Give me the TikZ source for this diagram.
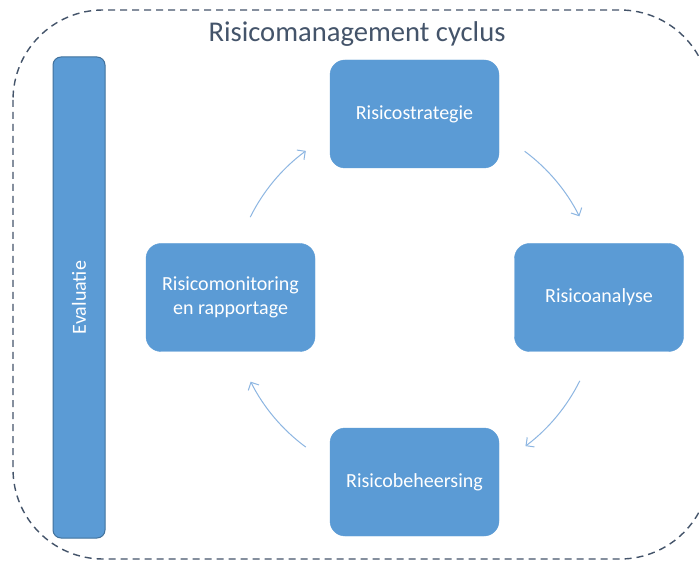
\documentclass[tikz,border=0pt]{standalone}
\usepackage{fontspec}
\setmainfont{Carlito}
\usetikzlibrary{arrows.meta}
\definecolor{boxblue}{HTML}{5B9BD5}
\definecolor{boxedge}{HTML}{41719C}
\definecolor{slate}{HTML}{44546A}
\definecolor{arrowblue}{HTML}{8DB6E2}
\begin{document}
\begin{tikzpicture}[x=1pt,y=1pt,
  stepbox/.style={rectangle, rounded corners=15pt, minimum width=169pt, minimum height=108pt,
    fill=boxblue, draw=boxblue, text=white, align=center, inner sep=2pt,
    font=\fontsize{20}{24}\selectfont},
  evalbar/.style={rectangle, rounded corners=8pt, minimum width=52pt, minimum height=481pt,
    fill=boxblue, draw=boxedge, line width=1pt, text=white, inner sep=0pt},
  cyclearrow/.style={draw=arrowblue, line width=1pt, -{Straight Barb[length=6pt,width=12pt]}},
  frame/.style={draw=slate, line width=1.4pt, dash pattern=on 7pt off 5pt, rounded corners=90pt}
]
\useasboundingbox (0,0) rectangle (699,-561);
\clip (0,0) rectangle (699,-561);
\fill[white] (0,0) rectangle (699,-561);
\draw[frame] (13,-10) rectangle (710,-559);
\node[text=slate, font=\fontsize{28.6}{34}\selectfont] (title) at (357,-34) {Risicomanagement cyclus};
\node[evalbar] (eval) at (79,-297.5) {};
\node[rotate=90, text=white, font=\fontsize{20}{24}\selectfont] (evaltxt) at (eval.center) {Evaluatie};
\node[stepbox] (strat) at (414.5,-114) {Risicostrategie};
\node[stepbox] (anal) at (599,-297.5) {Risicoanalyse};
\node[stepbox] (beh) at (414.5,-482) {Risicobeheersing};
\node[stepbox] (mon) at (230.5,-297.5) {Risicomonitoring\\en rapportage};
\coordinate (c) at (415,-299);
\coordinate (a1) at ([shift={(153.6:184pt)}]c);
\coordinate (a2) at ([shift={(53.4:184pt)}]c);
\coordinate (a3) at ([shift={(-26.4:184pt)}]c);
\coordinate (a4) at ([shift={(-126.4:184pt)}]c);
\draw[cyclearrow] (a1) arc[start angle=153.6, end angle=126.4, radius=184pt];
\draw[cyclearrow] (a2) arc[start angle=53.4, end angle=26.7, radius=184pt];
\draw[cyclearrow] (a3) arc[start angle=-26.4, end angle=-53.1, radius=184pt];
\draw[cyclearrow] (a4) arc[start angle=-126.4, end angle=-153.3, radius=184pt];
\end{tikzpicture}
\end{document}
